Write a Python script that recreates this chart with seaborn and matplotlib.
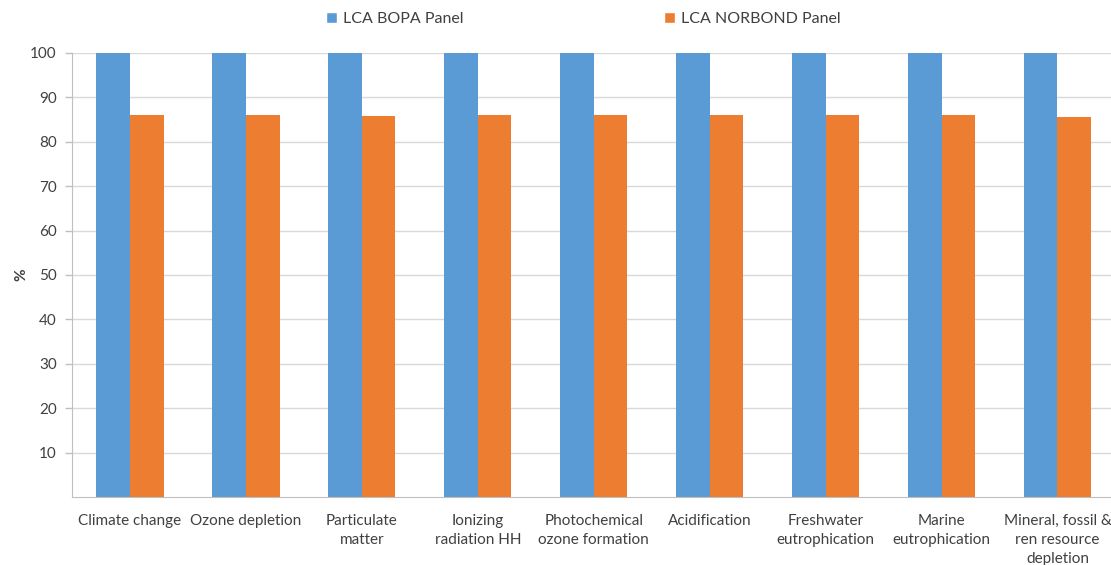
import pandas as pd
import matplotlib.pyplot as plt
import seaborn as sns
from matplotlib.patches import Patch

# Chart data
categories = [
    "Climate change", "Ozone depletion", "Particulate\nmatter",
    "Ionizing\nradiation HH", "Photochemical\nozone formation", "Acidification",
    "Freshwater\neutrophication", "Marine\neutrophication",
    "Mineral, fossil &\nren resource\ndepletion",
]
bopa_values = [100, 100, 100, 100, 100, 100, 100, 100, 100]
norbond_values = [86, 86, 85.7, 86, 86, 86, 86, 86, 85.6]
series_names = ["LCA BOPA Panel", "LCA NORBOND Panel"]
y_ticks = [10, 20, 30, 40, 50, 60, 70, 80, 90, 100]

colors = ["#5b9bd5", "#ed7d31"]

df = pd.DataFrame({
    "category": categories * 2,
    "value": bopa_values + norbond_values,
    "series": [series_names[0]] * len(categories) + [series_names[1]] * len(categories),
})

sns.set_style("white")
plt.rcParams['font.family'] = ['Lato', 'DejaVu Sans']

fig = plt.figure(figsize=(11.11, 5.65), dpi=100)
ax = fig.add_axes([72 / 1111, 1 - 497 / 565, 1 - 72 / 1111 + 0.004, (497 - 53) / 565])

sns.barplot(data=df, x="category", y="value", hue="series", palette=colors,
            width=0.58, saturation=1, linewidth=0, ax=ax, legend=False)

ax.set_ylim(0, 100)
ax.set_xlim(-0.5, len(categories) - 0.5)
ax.set_yticks(y_ticks)
ax.set_yticklabels([str(t) for t in y_ticks], fontsize=11, color="#404040")
ax.yaxis.grid(True, color="#d9d9d9", linewidth=1)
ax.set_axisbelow(True)

# category labels at centers, tick marks at boundaries
ax.set_xticks(range(len(categories)))
ax.set_xticklabels(categories, fontsize=11, color="#404040", linespacing=1.45)
ax.tick_params(axis="x", length=0, pad=12)
ax.set_xticks([i - 0.5 for i in range(1, len(categories))], minor=True)
ax.tick_params(axis="x", which="minor", length=5, color="#bfbfbf", width=1)
ax.tick_params(axis="y", length=5, color="#bfbfbf", width=1, pad=6, left=True)

for side in ["top", "right"]:
    ax.spines[side].set_visible(False)
ax.spines["left"].set_color("#bfbfbf")
ax.spines["bottom"].set_color("#bfbfbf")

ax.set_xlabel("")
ax.set_ylabel("%", fontsize=11, fontweight="bold", color="#404040")
ax.yaxis.set_label_coords(-0.042, 0.5)

handles = [Patch(facecolor=c, label=n) for c, n in zip(colors, series_names)]
fig.legend(handles=handles, loc="center", bbox_to_anchor=(0.525, 0.967), ncol=2,
           frameon=False, fontsize=11.5, handlelength=0.7, handleheight=0.7,
           handletextpad=0.4, columnspacing=12.5, labelcolor="#404040")

fig.savefig("out.png", dpi=100)
